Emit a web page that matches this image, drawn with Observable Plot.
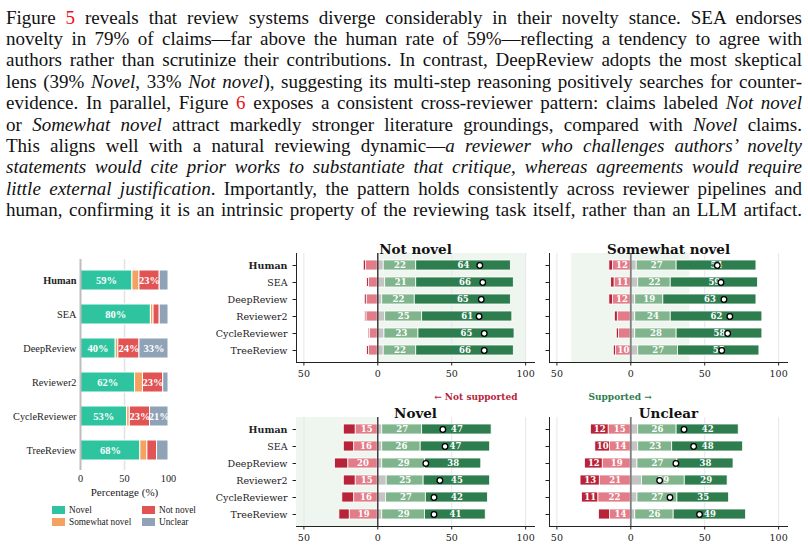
<!DOCTYPE html>
<html><head><meta charset="utf-8">
<script src="https://cdn.jsdelivr.net/npm/d3@7"></script>
<script src="https://cdn.jsdelivr.net/npm/@observablehq/plot@0.6"></script>
<style>
body{margin:0;background:#fff;}
#page{position:relative;width:808px;height:547px;overflow:hidden;background:#fff;}
.line{position:absolute;left:6px;white-space:nowrap;font-family:"Liberation Serif","Times New Roman",Times,serif;font-size:19px;line-height:21.4px;color:#111;}
.ref{color:#e8141c}
.leg{position:absolute;font-family:"Liberation Serif","Times New Roman",serif;font-size:9.3px;color:#222;line-height:10px;white-space:nowrap}
.sw{position:absolute;width:13px;height:8px}
</style></head>
<body><div id="page"></div>
<script>
// ---------- text ----------
const paragraphLines = [
  'Figure <span class="ref">5</span> reveals that review systems diverge considerably in their novelty stance. SEA endorses',
  'novelty in 79% of claims—far above the human rate of 59%—reflecting a tendency to agree with',
  'authors rather than scrutinize their contributions. In contrast, DeepReview adopts the most skeptical',
  'lens (39% <i>Novel</i>, 33% <i>Not novel</i>), suggesting its multi-step reasoning positively searches for counter-',
  'evidence. In parallel, Figure <span class="ref">6</span> exposes a consistent cross-reviewer pattern: claims labeled <i>Not novel</i>',
  'or <i>Somewhat novel</i> attract markedly stronger literature groundings, compared with <i>Novel</i> claims.',
  'This aligns well with a natural reviewing dynamic—<i>a reviewer who challenges authors’ novelty</i>',
  '<i>statements would cite prior works to substantiate that critique, whereas agreements would require</i>',
  '<i>little external justification</i>. Importantly, the pattern holds consistently across reviewer pipelines and',
  'human, confirming it is an intrinsic property of the reviewing task itself, rather than an LLM artifact.'
];

// ---------- Figure 5 data ----------
const reviewers = ["Human", "SEA", "DeepReview", "Reviewer2", "CycleReviewer", "TreeReview"];
const stanceCategories = ["Novel", "Somewhat novel", "Not novel", "Unclear"];
const stanceColors = ["#2fc4a0", "#f4a261", "#e25454", "#8fa2b6"];
const novelPct    = [59, 80, 40, 62, 53, 68];
const somewhatPct = [8, 3, 3, 9, 3, 8];
const notNovelPct = [23, 7, 24, 23, 23, 11];
const unclearPct  = [10, 10, 33, 6, 21, 13];

// ---------- Figure 6 data (percent of claims) ----------
const supportSegments = ["Not supported", "Strongly not supported", "Neutral", "Supported", "Strongly supported"];
const supportColors = ["#e27c88", "#b7243a", "#c4c4c4", "#80b48c", "#2e7d4f"];

const nnStrongNot = [1.5, 1.2, 1.3, 0.8, 0.8, 1.2];
const nnNot       = [8, 6, 7.5, 7.7, 5.4, 6];
const nnNeutral   = [4, 5, 3, 5, 4.5, 4];
const nnSup       = [22, 21, 22, 25, 23, 22];
const nnStrongSup = [64, 66, 65, 61, 65, 66];
const nnMean      = [69, 71, 70, 68.5, 72, 72];

const snStrongNot = [2.5, 2.3, 2.5, 2, 1.5, 1.5];
const snNot       = [12, 11, 12, 8.8, 8, 10];
const snNeutral   = [4, 5, 3, 3, 3, 5];
const snSup       = [27, 22, 19, 24, 28, 27];
const snStrongSup = [54, 59, 63, 62, 58, 55];
const snMean      = [58.5, 61, 63, 67, 65.5, 61.5];

const nvStrongNot = [8, 7, 9, 8, 8, 7];
const nvNot       = [15, 16, 20, 15, 16, 19];
const nvNeutral   = [3, 3, 3, 6, 5.5, 3];
const nvSup       = [27, 26, 29, 25, 27, 29];
const nvStrongSup = [47, 47, 38, 45, 42, 41];
const nvMean      = [44, 45.5, 32.5, 42, 38, 38];

const unStrongNot = [12, 10, 12, 13, 11, 7.5];
const unNot       = [15, 14, 19, 21, 22, 14];
const unNeutral   = [5, 5, 4.5, 7.5, 4.5, 3];
const unSup       = [26, 23, 27, 29, 27, 26];
const unStrongSup = [42, 48, 38, 29, 35, 49];
const unMean      = [36, 42.5, 30.5, 19.5, 26.5, 46.5];

const page = document.getElementById("page");

// ---------- paragraph ----------
const lineDivs = paragraphLines.map((html, i) => {
  const d = document.createElement("div");
  d.className = "line";
  d.style.top = (6.5 + i * 21.4) + "px";
  d.innerHTML = html;
  page.appendChild(d);
  return d;
});
function justify() {
  const W = 796;
  for (const d of lineDivs) {
    d.style.wordSpacing = "0px";
    const w = d.getBoundingClientRect().width;
    const n = (d.textContent.match(/ /g) || []).length;
    d.style.wordSpacing = ((W - w) / n) + "px";
  }
}
justify();
if (document.fonts && document.fonts.ready) document.fonts.ready.then(justify);

function place(el, left, top) {
  el.style.position = "absolute";
  el.style.left = left + "px";
  el.style.top = top + "px";
  el.style.overflow = "visible";
  page.appendChild(el);
  return el;
}

// ---------- Figure 5 ----------
const fig5Cols = [novelPct, somewhatPct, notNovelPct, unclearPct];
const fig5Rows = reviewers.flatMap((r, i) => stanceCategories.map((c, j) => ({reviewer: r, category: c, value: fig5Cols[j][i]})));

const fig5 = Plot.plot({
  width: 200, height: 252,
  marginLeft: 80, marginRight: 32, marginTop: 9, marginBottom: 32,
  style: {fontFamily: '"Liberation Serif", "Times New Roman", serif', fontSize: "10.3px", color: "#222", background: "transparent"},
  x: {domain: [0, 100], ticks: [0, 50, 100], tickSize: 0, tickPadding: 4.5, label: null},
  y: {domain: reviewers, paddingInner: 0.42, paddingOuter: 0.25, tickSize: 0, tickPadding: 4, label: null},
  color: {domain: stanceCategories, range: stanceColors},
  marks: [
    Plot.ruleX([50], {stroke: "#e2e2e2", strokeWidth: 1.5}),
    Plot.barX(fig5Rows, Plot.stackX({x: "value", y: "reviewer", fill: "category", stroke: "white", strokeWidth: 1})),
    Plot.ruleX([0], {stroke: "#bdbdbd", strokeWidth: 2}),
    Plot.text(fig5Rows, Plot.stackX({x: "value", y: "reviewer", z: "category",
      text: d => d.value >= 20 ? d.value + "%" : "", fill: "white", fontWeight: "bold", fontSize: 10.5})),
    Plot.text(["Percentage (%)"], {text: d => d, frameAnchor: "bottom", dy: 25, fontSize: 11})
  ]
});
d3.select(fig5).selectAll("text").filter(function() { return this.textContent === "Human"; }).style("font-weight", "bold");
place(fig5, 0, 250);

// legend (HTML)
const legendItems = [
  {label: "Novel", color: stanceColors[0], x: 52, y: 506},
  {label: "Not novel", color: stanceColors[2], x: 142, y: 506},
  {label: "Somewhat novel", color: stanceColors[1], x: 52, y: 518},
  {label: "Unclear", color: stanceColors[3], x: 142, y: 518}
];
for (const it of legendItems) {
  const s = document.createElement("div");
  s.className = "sw"; s.style.left = it.x + "px"; s.style.top = it.y + "px"; s.style.background = it.color;
  page.appendChild(s);
  const t = document.createElement("div");
  t.className = "leg"; t.style.left = (it.x + 17) + "px"; t.style.top = (it.y - 1) + "px"; t.textContent = it.label;
  page.appendChild(t);
}

// ---------- Figure 6 panels ----------
function panel(spec) {
  const rows = [];
  reviewers.forEach((r, i) => {
    rows.push({reviewer: r, seg: supportSegments[0], v: -spec.not[i]});
    rows.push({reviewer: r, seg: supportSegments[1], v: -spec.strongNot[i]});
    rows.push({reviewer: r, seg: supportSegments[2], v: spec.neutral[i]});
    rows.push({reviewer: r, seg: supportSegments[3], v: spec.sup[i]});
    rows.push({reviewer: r, seg: supportSegments[4], v: spec.strongSup[i]});
  });
  const means = reviewers.map((r, i) => ({reviewer: r, mean: spec.mean[i]}));
  const marks = [];
  if (spec.shade) marks.push(Plot.rect([spec.shade], {x1: d => d[0], x2: d => d[1], fill: "#eff6ef"}));
  marks.push(Plot.ruleX([-50, 50, 100], {stroke: "#e6e6e6", strokeWidth: 1}));
  marks.push(Plot.barX(rows, Plot.stackX({x: "v", y: "reviewer", fill: "seg", stroke: "white", strokeWidth: 0.8})));
  marks.push(Plot.ruleX([0], {stroke: spec.zeroColor, strokeWidth: spec.zeroWidth}));
  marks.push(Plot.text(rows, Plot.stackX({x: "v", y: "reviewer", z: "seg",
    text: d => Math.abs(d.v) >= 10 ? String(Math.round(Math.abs(d.v))) : "",
    fill: "white", fontWeight: "bold", fontSize: 8.5})));
  marks.push(Plot.dot(means, {x: "mean", y: "reviewer", r: 2.8, fill: "white", stroke: "black", strokeWidth: 1.3}));
  marks.push(Plot.text([spec.title], {text: d => d, frameAnchor: "top", dy: -9, fontSize: 13.5, fontWeight: "bold", fill: "#111"}));
  if (spec.note) marks.push(Plot.text([spec.note.text], {text: d => d, frameAnchor: spec.note.anchor, textAnchor: spec.note.textAnchor,
    dx: spec.note.dx, dy: -24, fill: spec.note.color, fontWeight: "bold", fontSize: 9}));
  const svg = Plot.plot({
    width: spec.width, height: spec.height,
    marginLeft: spec.marginLeft, marginRight: spec.marginRight, marginTop: spec.marginTop, marginBottom: spec.marginBottom,
    style: {fontFamily: '"DejaVu Serif", serif', fontSize: "9.5px", color: "#222", background: "transparent"},
    x: {domain: [-55, 106], ticks: [-50, 0, 50, 100], tickFormat: d => String(Math.abs(d)), tickSize: 3.5, tickPadding: 4.5, line: true, label: null},
    y: {domain: reviewers, paddingInner: 0.395, paddingOuter: 0.28, tickSize: 3.5, tickPadding: 5.5, line: true, label: null,
        tickFormat: spec.labels ? (d => d) : (() => "")},
    color: {domain: supportSegments, range: supportColors},
    marks
  });
  d3.select(svg).selectAll("text").filter(function() { return this.textContent === "Human"; }).style("font-weight", "bold");
  place(svg, spec.left, spec.top);
}

const leftCol = {left: 196, width: 344, marginLeft: 100, marginRight: 6, labels: true};
const rightCol = {left: 539, width: 256, marginLeft: 10, marginRight: 8, labels: false};
const topRow = {top: 230, height: 154, marginTop: 23, marginBottom: 22};
const botRow = {top: 380, height: 167, marginTop: 37, marginBottom: 21};

panel({...leftCol, ...topRow, title: "Not novel", strongNot: nnStrongNot, not: nnNot, neutral: nnNeutral, sup: nnSup, strongSup: nnStrongSup, mean: nnMean,
  shade: [0, 100], zeroColor: "#111", zeroWidth: 1.2});
panel({...rightCol, ...topRow, title: "Somewhat novel", strongNot: snStrongNot, not: snNot, neutral: snNeutral, sup: snSup, strongSup: snStrongSup, mean: snMean,
  shade: [-40, 40], zeroColor: "#808080", zeroWidth: 1.8});
panel({...leftCol, ...botRow, title: "Novel", strongNot: nvStrongNot, not: nvNot, neutral: nvNeutral, sup: nvSup, strongSup: nvStrongSup, mean: nvMean,
  shade: [-55, 0], zeroColor: "#111", zeroWidth: 1.2,
  note: {text: "← Not supported", anchor: "top-right", textAnchor: "end", dx: -17, color: "#b7243a"}});
panel({...rightCol, ...botRow, title: "Unclear", strongNot: unStrongNot, not: unNot, neutral: unNeutral, sup: unSup, strongSup: unStrongSup, mean: unMean,
  shade: null, zeroColor: "#808080", zeroWidth: 1.8,
  note: {text: "Supported →", anchor: "top-left", textAnchor: "start", dx: 39, color: "#2e7d4f"}});
</script>
</body></html>
